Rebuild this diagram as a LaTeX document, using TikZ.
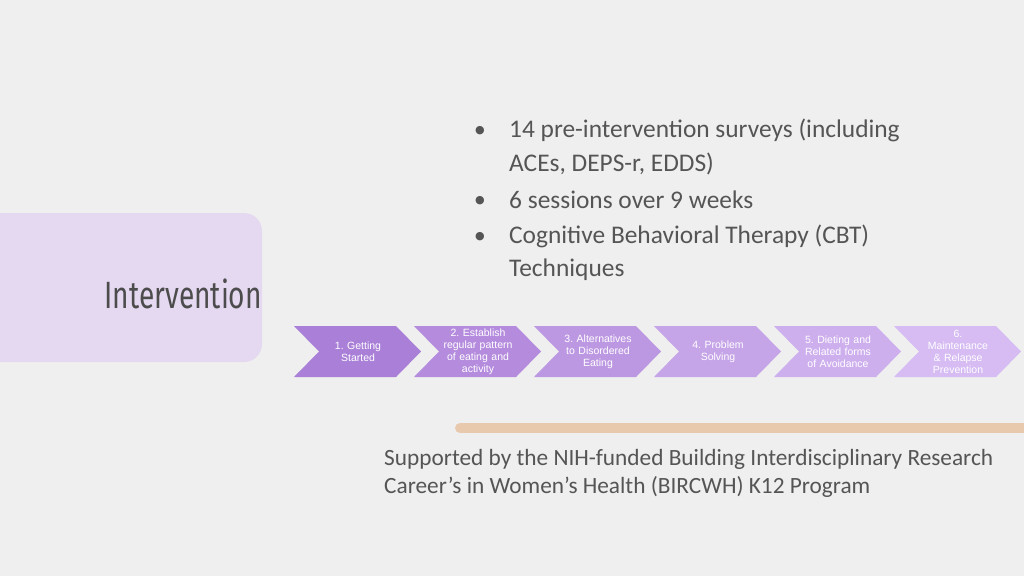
\documentclass[tikz,border=0pt]{standalone}
\usepackage{fontspec}
\setmainfont{Carlito}
\newfontfamily\arialf{Liberation Sans}
\newfontfamily\titlef{Fira Sans}
\newfontfamily\dejaf{DejaVu Sans}
\definecolor{bg}{HTML}{EFEFEF}
\definecolor{boxc}{HTML}{E5D8F1}
\definecolor{tx}{HTML}{555555}
\definecolor{barc}{HTML}{E8C9AE}
\definecolor{c0}{HTML}{A97FD8}
\definecolor{c1}{HTML}{B48BDD}
\definecolor{c2}{HTML}{BD98E2}
\definecolor{c3}{HTML}{C6A4E8}
\definecolor{c4}{HTML}{CEAFEE}
\definecolor{c5}{HTML}{D6BCF3}
\begin{document}
\frenchspacing
\begin{tikzpicture}[x=1pt,y=-1pt,
  ctext/.style={text=white,font=\arialf\fontsize{10.5}{12}\selectfont,align=center,text width=70pt}]
\fill[bg] (0,0) rectangle (1024,576);
\useasboundingbox (0,0) rectangle (1024,576);
\fill[boxc,rounded corners=18pt] (-20,213) rectangle (262,362);
\node[anchor=base east,text=tx!90!black,font=\titlef\fontsize{38}{40}\selectfont,xscale=0.74,inner sep=0] (title) at (262,308) {Intervention};
\foreach \i/\t in {0/{1. Getting\\Started},1/{2. Establish\\regular pattern\\of eating and\\activity},2/{3. Alternatives\\to Disordered\\Eating},3/{4. Problem\\Solving},4/{5. Dieting and\\Related forms\\of Avoidance},5/{6.\\Maintenance\\\& Relapse\\Prevention}}{
  \pgfmathsetmacro\x{294+120*\i}
  \fill[c\i] (\x,326) -- (\x+102,326) -- (\x+127,351.5) -- (\x+102,377) -- (\x,377) -- (\x+25,351.5) -- cycle;
  \node[ctext] (s\i) at (\x+64,351.5) {\t};
}
\foreach \y in {131,201,237}{
  \node[text=tx,font=\dejaf\fontsize{11}{11}\selectfont] at (480,\y) {●};
}
\begin{scope}[every node/.style={anchor=west,text=tx,font=\fontsize{25.4}{34}\selectfont,inner sep=0}]
\node (b1) at (509,130) {14 pre-intervention surveys (including};
\node (b1b) at (509,164) {ACEs, DEPS-r, EDDS)};
\node (b2) at (509,200) {6 sessions over 9 weeks};
\node (b3) at (509,236) {Cognitive Behavioral Therapy (CBT)};
\node (b3b) at (509,270) {Techniques};
\end{scope}
\draw[barc,line width=10pt,line cap=round] (460,428) -- (1040,428);
\node[anchor=north west,text=tx,font=\fontsize{23.3}{28}\selectfont,align=left,inner sep=0] (sup) at (384,449) {Supported by the NIH-funded Building Interdisciplinary Research\\Career’s in Women’s Health (BIRCWH) K12 Program};
\end{tikzpicture}
\end{document}
